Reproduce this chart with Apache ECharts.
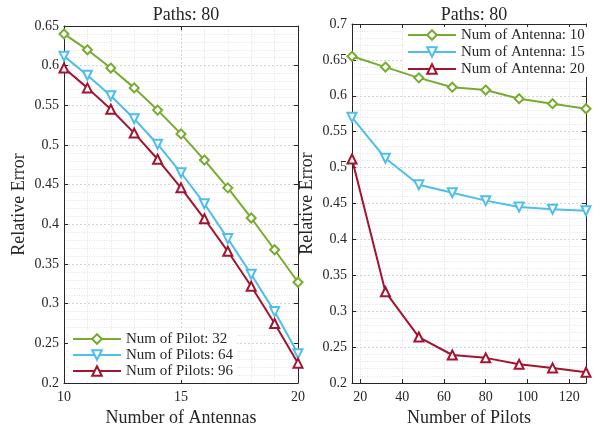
<!DOCTYPE html>
<html>
<head>
<meta charset="utf-8">
<script src="https://cdn.jsdelivr.net/npm/echarts@6/dist/echarts.min.js"></script>
<style>
  html, body { margin: 0; padding: 0; background: #fff; }
  #chart { width: 600px; height: 425px; }
</style>
</head>
<body>
<div id="chart"></div>
<script>
// left panel: error vs antennas
const antennas = [10, 11, 12, 13, 14, 15, 16, 17, 18, 19, 20];
const pilot32 = [0.640, 0.620, 0.597, 0.572, 0.544, 0.514, 0.481, 0.446, 0.408, 0.368, 0.327];
const pilot64 = [0.612, 0.588, 0.562, 0.533, 0.501, 0.465, 0.426, 0.382, 0.337, 0.290, 0.237];
const pilot96 = [0.597, 0.572, 0.545, 0.515, 0.482, 0.446, 0.407, 0.366, 0.322, 0.275, 0.225];

// right panel: error vs pilots
const pilots = [16, 32, 48, 64, 80, 96, 112, 128];
const antenna10 = [0.655, 0.640, 0.625, 0.612, 0.608, 0.596, 0.589, 0.582];
const antenna15 = [0.570, 0.513, 0.476, 0.465, 0.454, 0.445, 0.442, 0.440];
const antenna20 = [0.512, 0.327, 0.264, 0.239, 0.235, 0.226, 0.221, 0.215];
const pilotTicks = [20, 40, 60, 80, 100, 120];

const GREEN = '#77AC30', BLUE = '#4DBEEE', RED = '#A2142F';
const FONT = 'Liberation Serif';
const AXIS = '#262626';

const chart = echarts.init(document.getElementById('chart'));

const zip = (xs, ys) => xs.map((x, i) => [x, ys[i]]);

function mkSeries(name, xi, yi, xs, ys, color, symbol, rotate) {
  return {
    name: name, type: 'line', xAxisIndex: xi, yAxisIndex: yi,
    data: zip(xs, ys), z: 3,
    symbol: symbol, symbolSize: 9, symbolRotate: rotate || 0,
    lineStyle: { color: color, width: 2 },
    itemStyle: { color: color, borderColor: color, borderWidth: 1.5 },
    animation: false
  };
}

const gridLine = { show: true, lineStyle: { color: '#d4d4d4', type: [2, 2], width: 1 } };
const minorLine = { show: true, lineStyle: { color: '#e2e2e2', type: [1, 1.5], width: 1 } };
const tickLbl = { fontFamily: FONT, fontSize: 14, color: AXIS };
const nameTxt = { fontFamily: FONT, fontSize: 18, color: AXIS };
const titleTxt = { fontFamily: FONT, fontSize: 18, fontWeight: 'normal', color: AXIS };
const legendTxt = { fontFamily: FONT, fontSize: 15, color: AXIS, lineHeight: 16 };

function boxAxis(pos, gi, extra) {
  return Object.assign({
    type: 'value', gridIndex: gi, position: pos,
    axisLine: { show: true, lineStyle: { color: AXIS, width: 1 } },
    axisTick: { inside: true, length: 4, lineStyle: { color: AXIS } },
    axisLabel: { show: false },
    splitLine: { show: false }
  }, extra);
}

const option = {
  backgroundColor: '#fff',
  title: [
    { text: 'Paths: 80', left: 181, top: 1, textAlign: 'center', textStyle: titleTxt },
    { text: 'Paths: 80', left: 469, top: 1, textAlign: 'center', textStyle: titleTxt }
  ],
  grid: [
    { left: 64, top: 26, width: 234, height: 357, outerBoundsMode: 'none' },
    { left: 352, top: 24, width: 234, height: 359, outerBoundsMode: 'none' }
  ],
  legend: [
    {
      data: ['Num of Pilot: 32', 'Num of Pilots: 64', 'Num of Pilots: 96'],
      orient: 'vertical', left: 68, top: 330, z: 2,
      itemWidth: 48, itemHeight: 12, itemGap: 0, padding: [1, 4, 1, 4],
      backgroundColor: '#fff', textStyle: legendTxt
    },
    {
      data: ['Num of Antenna: 10', 'Num of Antenna: 15', 'Num of Antenna: 20'],
      orient: 'vertical', left: 404, top: 27, z: 2,
      itemWidth: 48, itemHeight: 12, itemGap: 1, padding: [0, 3, 0, 3],
      backgroundColor: '#fff', textStyle: legendTxt
    }
  ],
  xAxis: [
    boxAxis('bottom', 0, {
      min: 10, max: 20, interval: 5,
      name: 'Number of Antennas', nameLocation: 'middle', nameGap: 26, nameTextStyle: nameTxt,
      axisLabel: Object.assign({ show: true, margin: 7 }, tickLbl),
      splitLine: gridLine,
      minorTick: { show: false, splitNumber: 5 },
      minorSplitLine: minorLine
    }),
    boxAxis('top', 0, { min: 10, max: 20, interval: 5 }),
    boxAxis('bottom', 1, {
      min: 16, max: 128, interval: 4,
      name: 'Number of Pilots', nameLocation: 'middle', nameGap: 26, nameTextStyle: nameTxt,
      axisLabel: Object.assign({ show: true, margin: 7, customValues: pilotTicks }, tickLbl),
      axisTick: { inside: true, length: 4, lineStyle: { color: AXIS }, customValues: pilotTicks },
      splitLine: minorLine
    }),
    boxAxis('top', 1, {
      min: 16, max: 128, interval: 4,
      axisTick: { inside: true, length: 4, lineStyle: { color: AXIS }, customValues: pilotTicks }
    })
  ],
  yAxis: [
    boxAxis('left', 0, {
      min: 0.2, max: 0.65, interval: 0.05,
      name: 'Relative Error', nameLocation: 'middle', nameGap: 36, nameTextStyle: nameTxt,
      axisLabel: Object.assign({ show: true, margin: 5 }, tickLbl),
      splitLine: gridLine,
      minorTick: { show: false, splitNumber: 5 },
      minorSplitLine: minorLine
    }),
    boxAxis('right', 0, { min: 0.2, max: 0.65, interval: 0.05 }),
    boxAxis('left', 1, {
      min: 0.2, max: 0.7, interval: 0.05,
      name: 'Relative Error', nameLocation: 'middle', nameGap: 36, nameTextStyle: nameTxt,
      axisLabel: Object.assign({ show: true, margin: 5 }, tickLbl),
      splitLine: gridLine,
      minorTick: { show: false, splitNumber: 5 },
      minorSplitLine: minorLine
    }),
    boxAxis('right', 1, { min: 0.2, max: 0.7, interval: 0.05 })
  ],
  series: [
    mkSeries('Num of Pilot: 32', 0, 0, antennas, pilot32, GREEN, 'emptyDiamond'),
    mkSeries('Num of Pilots: 64', 0, 0, antennas, pilot64, BLUE, 'emptyTriangle', 180),
    mkSeries('Num of Pilots: 96', 0, 0, antennas, pilot96, RED, 'emptyTriangle'),
    mkSeries('Num of Antenna: 10', 2, 2, pilots, antenna10, GREEN, 'emptyDiamond'),
    mkSeries('Num of Antenna: 15', 2, 2, pilots, antenna15, BLUE, 'emptyTriangle', 180),
    mkSeries('Num of Antenna: 20', 2, 2, pilots, antenna20, RED, 'emptyTriangle')
  ]
};

chart.setOption(option);
</script>
</body>
</html>
